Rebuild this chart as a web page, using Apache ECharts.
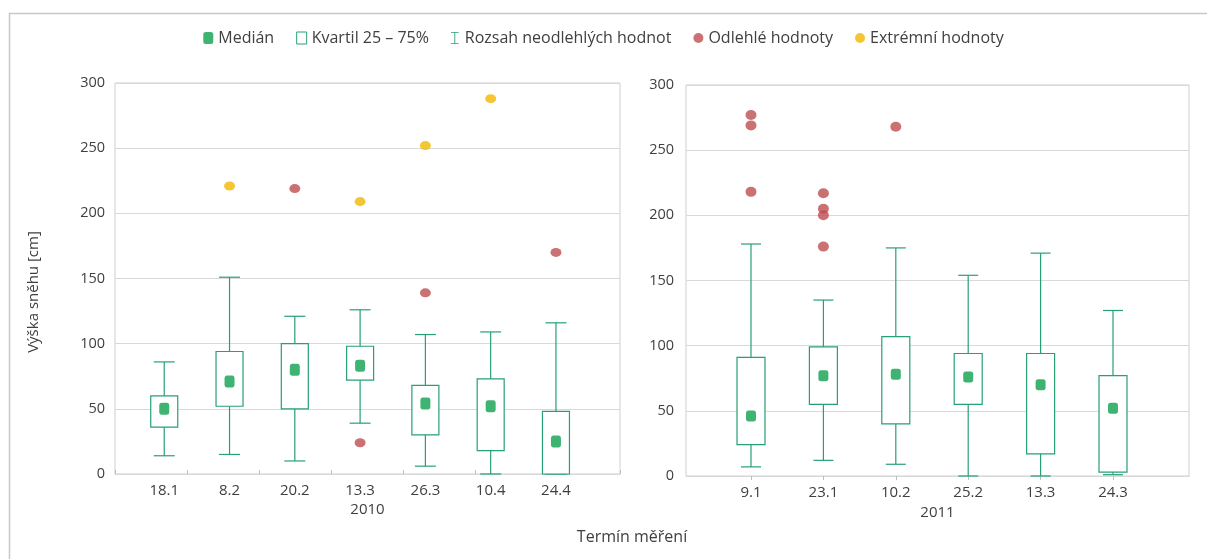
<!DOCTYPE html>
<html>
<head>
<meta charset="utf-8">
<script src="https://cdn.jsdelivr.net/npm/echarts@6/dist/echarts.min.js"></script>
<style>
html,body{margin:0;padding:0;background:#fff;}
#c{width:1207px;height:559px;}
</style>
</head>
<body>
<div id="c"></div>
<script>
// ---- data ----
const cats2010 = ['18.1','8.2','20.2','13.3','26.3','10.4','24.4'];
// [low whisker, Q1, median, Q3, high whisker]
const box2010 = [
  [14, 36, 50, 60, 86],
  [15, 52, 71, 94, 151],
  [10, 50, 80, 100, 121],
  [39, 72, 83, 98, 126],
  [6, 30, 54, 68, 107],
  [0, 18, 52, 73, 109],
  [0, 0, 25, 48, 116]
];
const outliers2010 = [['20.2', 219], ['13.3', 24], ['26.3', 139], ['24.4', 170]];
const extremes2010 = [['8.2', 221], ['13.3', 209], ['26.3', 252], ['10.4', 288]];

const cats2011 = ['9.1','23.1','10.2','25.2','13.3','24.3'];
const box2011 = [
  [7, 24, 46, 91, 178],
  [12, 55, 77, 99, 135],
  [9, 40, 78, 107, 175],
  [0, 55, 76, 94, 154],
  [0, 17, 70, 94, 171],
  [1, 3, 52, 77, 127]
];
const outliers2011 = [['9.1', 277], ['9.1', 269], ['9.1', 218], ['23.1', 217], ['23.1', 205], ['23.1', 200], ['23.1', 176], ['10.2', 268]];
const extremes2011 = [];

// ---- styles ----
const BOX = '#27a075';
const MED = '#0fa14f';
const OUT = '#bf4d50';
const EXT = '#f3b800';
const TXT = '#404040';
const GRID = '#d9d9d9';
const FONT = '"Open Sans", "Noto Sans", sans-serif';

function whiskerRenderer(capW) {
  return function (params, api) {
    const c = api.value(0);
    const lo = api.coord([c, api.value(1)]);
    const q1 = api.coord([c, api.value(2)]);
    const q3 = api.coord([c, api.value(4)]);
    const hi = api.coord([c, api.value(5)]);
    const h = capW / 2;
    const st = { stroke: BOX, lineWidth: 1.2, fill: null };
    return { type: 'group', children: [
      { type: 'line', shape: { x1: lo[0], y1: lo[1], x2: q1[0], y2: q1[1] }, style: st },
      { type: 'line', shape: { x1: q3[0], y1: q3[1], x2: hi[0], y2: hi[1] }, style: st },
      { type: 'line', shape: { x1: lo[0] - h, y1: lo[1], x2: lo[0] + h, y2: lo[1] }, style: st },
      { type: 'line', shape: { x1: hi[0] - h, y1: hi[1], x2: hi[0] + h, y2: hi[1] }, style: st }
    ]};
  };
}
function boxRenderer(bw) {
  return function (params, api) {
    const c = api.value(0);
    const q1 = api.coord([c, api.value(2)]);
    const q3 = api.coord([c, api.value(4)]);
    return { type: 'rect', shape: { x: q3[0] - bw / 2, y: q3[1], width: bw, height: q1[1] - q3[1] },
      style: { fill: '#fff', stroke: BOX, lineWidth: 1.2 } };
  };
}
function withIdx(arr) { return arr.map((d, i) => [i].concat(d)); }

const chart = echarts.init(document.getElementById('c'), null, { renderer: 'canvas' });

const frameY = (margin) => ({
  type: 'value', min: 0, max: 300, interval: 50,
  axisLine: { show: false }, axisTick: { show: false },
  axisLabel: { color: TXT, fontSize: 14.5, fontFamily: FONT, margin: margin },
  splitLine: { show: true, lineStyle: { color: GRID, width: 1 } }
});
const hiddenY = () => ({ type: 'value', min: 0, max: 300, interval: 50, show: false, splitLine: { show: false } });

const option = {
  animation: false,
  backgroundColor: '#fff',
  textStyle: { fontFamily: FONT },
  legend: {
    top: 25, left: 'center',
    itemWidth: 10, itemHeight: 12, itemGap: 22,
    textStyle: { color: TXT, fontSize: 16, fontFamily: FONT },
    data: [
      { name: 'Medián', icon: 'roundRect', itemStyle: { color: MED } },
      { name: 'Kvartil 25 – 75%', icon: 'rect', itemStyle: { color: '#fff', borderColor: BOX, borderWidth: 1 } },
      { name: 'Rozsah neodlehlých hodnot', icon: 'path://M0,0h9v1h-4v12h4v1h-9v-1h4v-12h-4z', itemStyle: { color: BOX } },
      { name: 'Odlehlé hodnoty', icon: 'circle', itemStyle: { color: OUT } },
      { name: 'Extrémní hodnoty', icon: 'circle', itemStyle: { color: EXT } }
    ]
  },
  grid: [
    { left: 115, top: 83, width: 505, height: 391, show: true, borderColor: '#cfcfcf', borderWidth: 1 },
    { left: 131.6, top: 83, width: 457, height: 391 },
    { left: 686, top: 85, width: 503, height: 391, show: true, borderColor: '#cfcfcf', borderWidth: 1 },
    { left: 714.8, top: 85, width: 434.4, height: 391 }
  ],
  xAxis: [
    { gridIndex: 0, type: 'value', min: 0, max: 7, interval: 1,
      axisLine: { show: true, lineStyle: { color: GRID } },
      axisTick: { show: true, inside: true, length: 4, lineStyle: { color: '#bfbfbf' } },
      axisLabel: { show: false }, splitLine: { show: false },
      name: '2010', nameLocation: 'middle', nameGap: 28,
      nameTextStyle: { color: TXT, fontSize: 15, fontFamily: FONT } },
    { gridIndex: 1, type: 'category', data: cats2010,
      axisLine: { show: false }, axisTick: { show: false },
      axisLabel: { color: TXT, fontSize: 15, fontFamily: FONT, margin: 9 } },
    { gridIndex: 2, type: 'value', min: 0, max: 1,
      axisLine: { show: true, lineStyle: { color: GRID } },
      axisTick: { show: false }, axisLabel: { show: false }, splitLine: { show: false },
      name: '2011', nameLocation: 'middle', nameGap: 29,
      nameTextStyle: { color: TXT, fontSize: 15, fontFamily: FONT } },
    { gridIndex: 3, type: 'category', data: cats2011,
      axisLine: { show: false },
      axisTick: { show: true, alignWithLabel: true, length: 4, lineStyle: { color: '#bfbfbf' } },
      axisLabel: { color: TXT, fontSize: 15, fontFamily: FONT, margin: 9 } }
  ],
  yAxis: [
    Object.assign({ gridIndex: 0 }, frameY(10)),
    Object.assign({ gridIndex: 1 }, hiddenY()),
    Object.assign({ gridIndex: 2 }, frameY(12)),
    Object.assign({ gridIndex: 3 }, hiddenY())
  ],
  series: [
    { name: 'Rozsah neodlehlých hodnot', type: 'custom', xAxisIndex: 1, yAxisIndex: 1, z: 2,
      renderItem: whiskerRenderer(21), data: withIdx(box2010), encode: { x: 0, y: [1, 5] }, itemStyle: { color: BOX } },
    { name: 'Kvartil 25 – 75%', type: 'custom', xAxisIndex: 1, yAxisIndex: 1, z: 3,
      renderItem: boxRenderer(27), data: withIdx(box2010), encode: { x: 0, y: [2, 4] }, itemStyle: { color: BOX } },
    { name: 'Medián', type: 'scatter', xAxisIndex: 1, yAxisIndex: 1, z: 4,
      symbol: 'roundRect', symbolSize: [10, 12], itemStyle: { color: MED },
      data: box2010.map((d, i) => [cats2010[i], d[2]]) },
    { name: 'Odlehlé hodnoty', type: 'scatter', xAxisIndex: 1, yAxisIndex: 1, z: 4,
      symbol: 'circle', symbolSize: [11, 9], itemStyle: { color: OUT }, data: outliers2010 },
    { name: 'Extrémní hodnoty', type: 'scatter', xAxisIndex: 1, yAxisIndex: 1, z: 4,
      symbol: 'circle', symbolSize: [11, 9], itemStyle: { color: EXT }, data: extremes2010 },

    { name: 'Rozsah neodlehlých hodnot', type: 'custom', xAxisIndex: 3, yAxisIndex: 3, z: 2,
      renderItem: whiskerRenderer(20), data: withIdx(box2011), encode: { x: 0, y: [1, 5] }, itemStyle: { color: BOX } },
    { name: 'Kvartil 25 – 75%', type: 'custom', xAxisIndex: 3, yAxisIndex: 3, z: 3,
      renderItem: boxRenderer(28), data: withIdx(box2011), encode: { x: 0, y: [2, 4] }, itemStyle: { color: BOX } },
    { name: 'Medián', type: 'scatter', xAxisIndex: 3, yAxisIndex: 3, z: 4,
      symbol: 'roundRect', symbolSize: [10, 11], itemStyle: { color: MED },
      data: box2011.map((d, i) => [cats2011[i], d[2]]) },
    { name: 'Odlehlé hodnoty', type: 'scatter', xAxisIndex: 3, yAxisIndex: 3, z: 4,
      symbol: 'circle', symbolSize: [11, 10], itemStyle: { color: OUT }, data: outliers2011 },
    { name: 'Extrémní hodnoty', type: 'scatter', xAxisIndex: 3, yAxisIndex: 3, z: 4,
      symbol: 'circle', symbolSize: [11, 9], itemStyle: { color: EXT }, data: extremes2011 }
  ],
  graphic: [
    { type: 'rect', left: 7, top: 11, silent: true, z: -10,
      shape: { x: 0, y: 0, width: 1400, height: 700 },
      style: { fill: null, stroke: '#c8c8c8', lineWidth: 1.5 } },
    { type: 'text', x: 34, y: 292, rotation: Math.PI / 2,
      style: { text: 'Výška sněhu [cm]', fill: TXT, font: '15px ' + FONT, textAlign: 'center', textVerticalAlign: 'middle' } },
    { type: 'text', x: 632, y: 537,
      style: { text: 'Termín měření', fill: TXT, font: '16px ' + FONT, textAlign: 'center', textVerticalAlign: 'middle' } }
  ]
};
chart.setOption(option);
</script>
</body>
</html>
